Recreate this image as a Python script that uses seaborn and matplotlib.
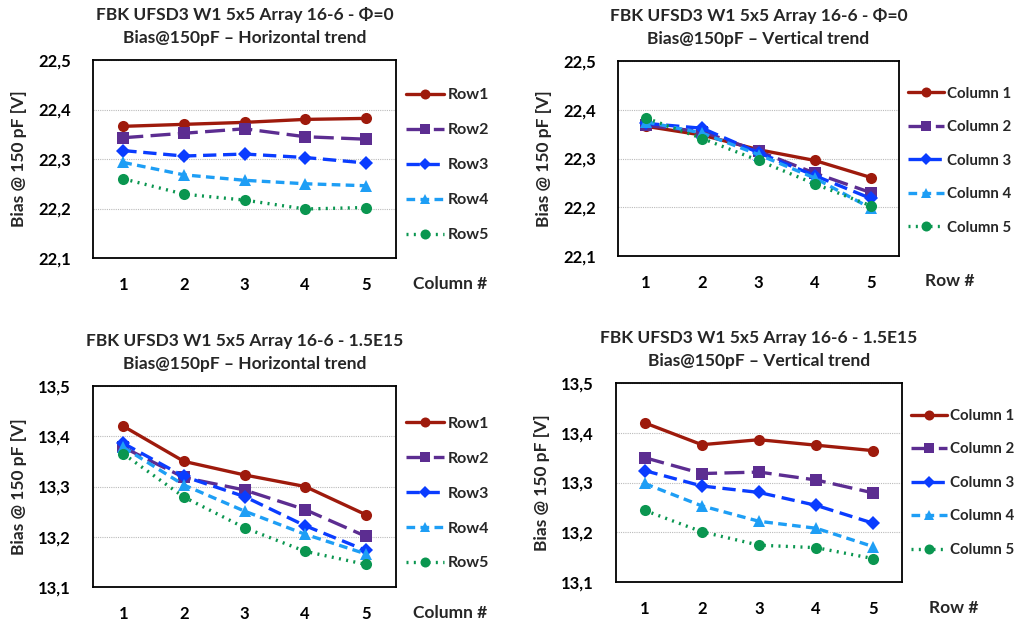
import numpy as np
import pandas as pd
import seaborn as sns
import matplotlib.pyplot as plt
from matplotlib.ticker import FuncFormatter

# ---- data ----
positions = [1, 2, 3, 4, 5]
row_names = ['Row1', 'Row2', 'Row3', 'Row4', 'Row5']
col_names = ['Column 1', 'Column 2', 'Column 3', 'Column 4', 'Column 5']

# Phi = 0, horizontal trend (x = column #)
phi0_rows = {
    'Row1': [22.366, 22.370, 22.374, 22.380, 22.382],
    'Row2': [22.343, 22.352, 22.361, 22.345, 22.340],
    'Row3': [22.317, 22.306, 22.310, 22.303, 22.292],
    'Row4': [22.293, 22.268, 22.257, 22.250, 22.246],
    'Row5': [22.260, 22.229, 22.217, 22.199, 22.202],
}
# Phi = 0, vertical trend (x = row #)
phi0_cols = {
    'Column 1': [22.366, 22.348, 22.318, 22.296, 22.261],
    'Column 2': [22.368, 22.355, 22.315, 22.270, 22.230],
    'Column 3': [22.372, 22.362, 22.312, 22.265, 22.218],
    'Column 4': [22.375, 22.352, 22.308, 22.260, 22.198],
    'Column 5': [22.383, 22.341, 22.296, 22.248, 22.203],
}
# 1.5E15, horizontal trend
fl_rows = {
    'Row1': [13.420, 13.350, 13.323, 13.300, 13.244],
    'Row2': [13.378, 13.318, 13.293, 13.254, 13.201],
    'Row3': [13.386, 13.320, 13.280, 13.222, 13.173],
    'Row4': [13.378, 13.303, 13.251, 13.205, 13.166],
    'Row5': [13.365, 13.279, 13.218, 13.171, 13.145],
}
# 1.5E15, vertical trend
fl_cols = {
    'Column 1': [13.420, 13.376, 13.386, 13.375, 13.364],
    'Column 2': [13.350, 13.318, 13.321, 13.305, 13.279],
    'Column 3': [13.324, 13.293, 13.280, 13.254, 13.218],
    'Column 4': [13.298, 13.253, 13.222, 13.208, 13.171],
    'Column 5': [13.244, 13.201, 13.174, 13.169, 13.147],
}

colors = ['#9E1A0C', '#5C2D91', '#0A3CFF', '#1E9EF5', '#0A9650']
markers = ['o', 's', 'D', '^', 'o']
msizes = [8, 8, 7, 8, 8]
dashes = ['', (6, 2.2), (4, 2), (2.6, 1.6), (0.6, 1.6)]

sns.set_theme(style='white')
plt.rcParams['font.family'] = ['Lato', 'DejaVu Sans']
plt.rcParams['font.weight'] = 'bold'

fig = plt.figure(figsize=(10.23, 6.27), dpi=100)
W, H = 1023, 627


def px_axes(left, top, right, bottom):
    return fig.add_axes([left / W, 1 - bottom / H, (right - left) / W, (bottom - top) / H])


def draw(ax, data, names, ylim, title, xname, leg_y, leg_fs):
    df = pd.DataFrame([(n, p, v) for n in names for p, v in zip(positions, data[n])],
                      columns=['series', 'pos', 'bias'])
    sns.lineplot(data=df, x='pos', y='bias', hue='series', style='series',
                 hue_order=names, style_order=names,
                 palette=dict(zip(names, colors)),
                 markers=dict(zip(names, markers)),
                 dashes=dict(zip(names, dashes)),
                 linewidth=2.4, markeredgewidth=0, ax=ax, legend=True)
    for line, ms in zip(ax.lines, msizes):
        line.set_markersize(ms)
    ax.set_xlim(0.5, 5.5)
    ax.set_ylim(*ylim)
    ax.set_xticks(positions)
    ax.set_yticks(np.round(np.arange(ylim[0], ylim[1] + 0.001, 0.1), 1))
    ax.yaxis.set_major_formatter(FuncFormatter(lambda v, _: f'{v:.1f}'.replace('.', ',')))
    ax.tick_params(axis='both', length=0, labelsize=12, pad=14, colors='black')
    ax.tick_params(axis='y', pad=16)
    ax.grid(axis='y', color='#bbbbbb', linestyle=(0, (1, 1)), linewidth=0.8)
    for s in ax.spines.values():
        s.set_color('black')
        s.set_linewidth(1.3)
    ax.set_xlabel('')
    ax.set_ylabel('Bias @ 150 pF [V]', fontsize=12.5, fontweight='bold', labelpad=8)
    ax.set_title(title, fontsize=12.5, fontweight='bold', linespacing=1.55, pad=12)
    ax.text(1.18, -0.13, xname, transform=ax.transAxes, ha='center', va='center',
            fontsize=12.5, fontweight='bold')
    leg = ax.legend(loc='upper left', bbox_to_anchor=(1.012, leg_y), frameon=False,
                    fontsize=leg_fs, handlelength=2.4, labelspacing=1.3,
                    handletextpad=0.2, borderaxespad=0)
    for t in leg.get_texts():
        t.set_fontweight('bold')
    for h, ms in zip(leg.legend_handles, msizes):
        h.set_markersize(ms * 0.9)
        h.set_markeredgewidth(0)


ax1 = px_axes(93, 60, 396, 258)
draw(ax1, phi0_rows, row_names, (22.1, 22.5),
     'FBK UFSD3 W1 5x5 Array 16-6 - \u03a6=0\nBias@150pF \u2013 Horizontal trend', 'Column #', 0.89, 11.5)
ax2 = px_axes(618, 61, 899, 256)
draw(ax2, phi0_cols, col_names, (22.1, 22.5),
     'FBK UFSD3 W1 5x5 Array 16-6 - \u03a6=0\nBias@150pF \u2013 Vertical trend', 'Row #', 0.9, 10.8)
ax3 = px_axes(93, 386, 396, 587)
draw(ax3, fl_rows, row_names, (13.1, 13.5),
     'FBK UFSD3 W1 5x5 Array 16-6 - 1.5E15\nBias@150pF \u2013 Horizontal trend', 'Column #', 0.88, 11.5)
ax4 = px_axes(616, 383, 902, 582)
draw(ax4, fl_cols, col_names, (13.1, 13.5),
     'FBK UFSD3 W1 5x5 Array 16-6 - 1.5E15\nBias@150pF \u2013 Vertical trend', 'Row #', 0.9, 10.8)

fig.savefig('out.png', dpi=100)
